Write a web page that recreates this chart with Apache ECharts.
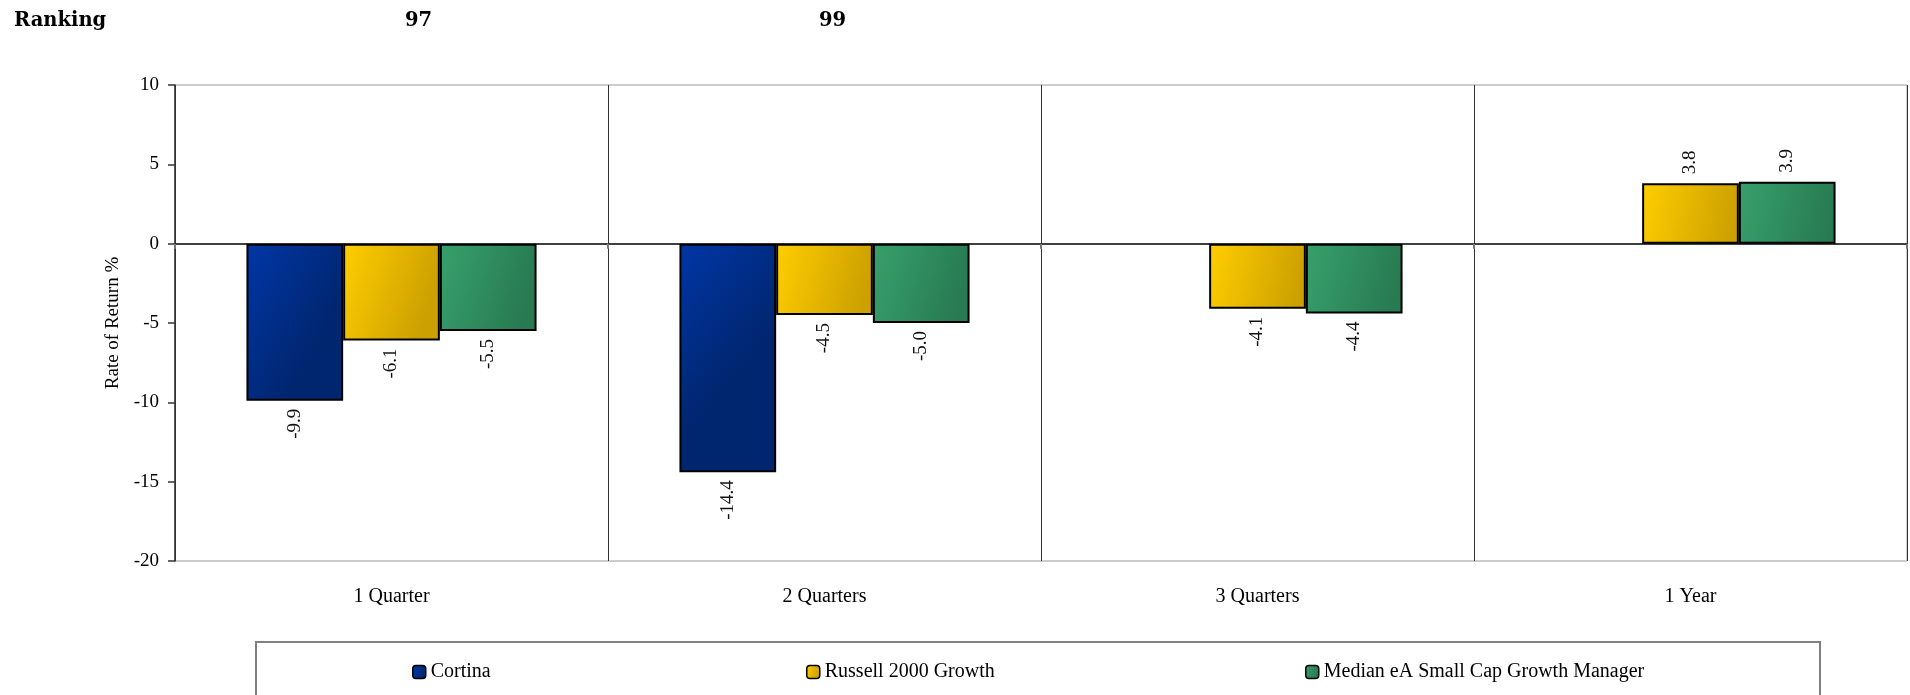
<!DOCTYPE html>
<html>
<head>
<meta charset="utf-8">
<script src="https://cdn.jsdelivr.net/npm/echarts@6/dist/echarts.min.js"></script>
<style>
html,body{margin:0;padding:0;background:#fff;}
#chart{width:1910px;height:695px;}
</style>
</head>
<body>
<div id="chart"></div>
<script>
const categories = ['1 Quarter', '2 Quarters', '3 Quarters', '1 Year'];
const seriesNames = ['Cortina', 'Russell 2000 Growth', 'Median eA Small Cap Growth Manager'];
const cortina = [-9.9, -14.4, null, null];
const russell = [-6.1, -4.5, -4.1, 3.8];
const median = [-5.5, -5.0, -4.4, 3.9];
const yTicks = { min: -20, max: 10, interval: 5 };
const rankingLabel = 'Ranking';
const rankingValues = ['97', '99'];

const FONT = '"Liberation Serif", "Times New Roman", serif';
const TFONT = '"DejaVu Serif", "Liberation Serif", serif';

function grad(c1, c2) {
  return new echarts.graphic.LinearGradient(0, 0, 1, 0.35, [
    { offset: 0, color: c1 },
    { offset: 1, color: c2 }
  ]);
}
const fills = [
  grad('#0036A6', '#00266F'),
  grad('#FFCE00', '#CCA000'),
  grad('#37A06C', '#287A52')
];

function mkData(arr) {
  return arr.map(v => {
    if (v === null) return null;
    const neg = v < 0;
    return {
      value: v,
      label: {
        position: neg ? 'bottom' : 'top',
        align: neg ? 'right' : 'left',
        verticalAlign: 'middle',
        distance: neg ? 8 : 9
      }
    };
  });
}

function mkSeries(name, arr, i) {
  return {
    name: name,
    type: 'bar',
    xAxisIndex: 0,
    yAxisIndex: 0,
    barCategoryGap: '33%',
    barGap: '0%',
    data: mkData(arr),
    itemStyle: { color: fills[i], borderColor: '#000', borderWidth: 2 },
    label: {
      show: true,
      rotate: 90,
      fontFamily: FONT,
      fontSize: 19,
      color: '#111',
      formatter: p => Number(p.value).toFixed(1)
    },
    emphasis: { disabled: true },
    z: 3
  };
}

const legendLefts = [412, 806, 1305];
const titleStyle = { fontFamily: TFONT, fontSize: 19.5, fontWeight: 'bold', color: '#000' };

const chart = echarts.init(document.getElementById('chart'), null, { renderer: 'canvas' });
chart.setOption({
  animation: false,
  backgroundColor: '#fff',
  title: [
    { text: rankingLabel, left: 9, top: 6, textStyle: titleStyle },
    { text: rankingValues[0], left: 400, top: 6, textStyle: titleStyle },
    { text: rankingValues[1], left: 814, top: 6, textStyle: titleStyle }
  ],
  grid: {
    left: 175, right: 3, top: 85, bottom: 134,
    show: true, borderColor: '#9a9a9a', borderWidth: 1, backgroundColor: 'transparent'
  },
  legend: seriesNames.map((n, i) => ({
    data: [n],
    left: legendLefts[i],
    top: 662,
    padding: 0,
    itemWidth: 13,
    itemHeight: 13,
    itemGap: 5,
    selectedMode: false,
    itemStyle: { borderColor: '#000', borderWidth: 1.5 },
    textStyle: { fontFamily: FONT, fontSize: 20, color: '#000' }
  })),
  xAxis: [
    {
      type: 'category',
      data: categories,
      position: 'bottom',
      axisLine: { show: false, onZero: false },
      axisTick: { show: false },
      axisLabel: { fontFamily: FONT, fontSize: 20, color: '#000', margin: 26 },
      splitLine: { show: true, lineStyle: { color: '#333', width: 1 } }
    },
    {
      type: 'category',
      data: categories,
      position: 'bottom',
      axisLine: { show: true, onZero: true, lineStyle: { color: '#000', width: 1.5 } },
      axisTick: { show: true, length: 5, lineStyle: { color: '#777', width: 2 } },
      axisLabel: { show: false },
      splitLine: { show: false }
    }
  ],
  yAxis: {
    type: 'value',
    min: yTicks.min,
    max: yTicks.max,
    interval: yTicks.interval,
    name: 'Rate of Return %',
    nameLocation: 'middle',
    nameGap: 52,
    nameTextStyle: { fontFamily: FONT, fontSize: 19, color: '#000' },
    axisLine: { show: true, lineStyle: { color: '#333', width: 1.5 } },
    axisTick: { show: true, length: 7, lineStyle: { color: '#333', width: 1.5 } },
    axisLabel: { fontFamily: FONT, fontSize: 19, color: '#000', margin: 16 },
    splitLine: { show: false }
  },
  graphic: [
    {
      type: 'rect',
      shape: { x: 256, y: 642, width: 1564, height: 70 },
      style: { fill: 'transparent', stroke: '#808080', lineWidth: 2 },
      silent: true
    }
  ],
  series: [
    mkSeries(seriesNames[0], cortina, 0),
    mkSeries(seriesNames[1], russell, 1),
    mkSeries(seriesNames[2], median, 2)
  ]
});
</script>
</body>
</html>
